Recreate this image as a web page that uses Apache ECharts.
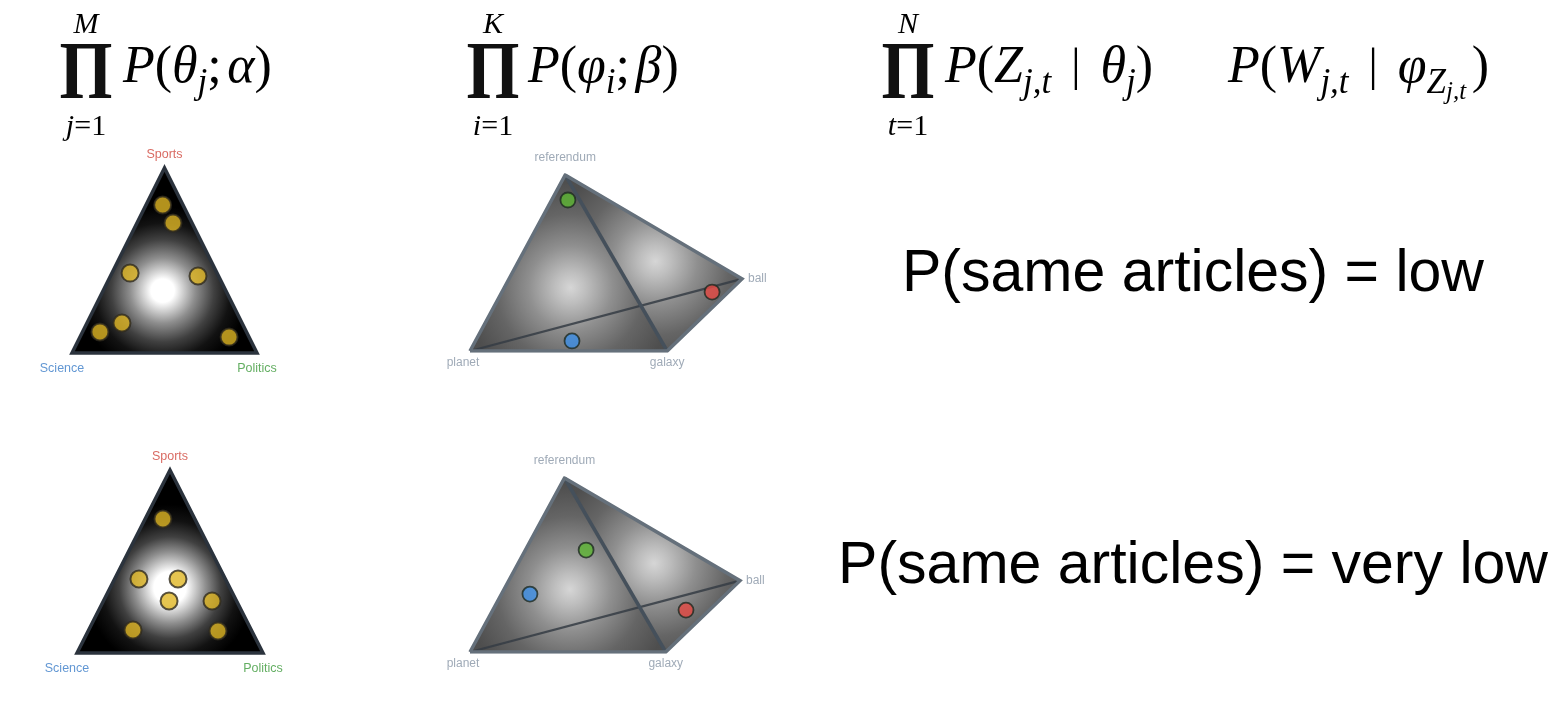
<!DOCTYPE html>
<html>
<head>
<meta charset="utf-8">
<script src="https://cdn.jsdelivr.net/npm/echarts@6/dist/echarts.min.js"></script>
<style>
  html, body { margin: 0; padding: 0; background: #fff; }
  #main { width: 1567px; height: 701px; }
</style>
</head>
<body>
<div id="main"></div>
<script>
// topic simplex: corners in unit space (Science, Politics, Sports)
const simplexCorners = [[0, 0], [1, 0], [0.5, 1]];
const simplexNames = ['Science', 'Politics', 'Sports'];
const simplexNameColors = ['#3b7dc8', '#3c9a3b', '#d0463c'];

// documents' topic mixtures (theta_j)
const docsLow = [[0.49, 0.80], [0.546, 0.703], [0.314, 0.432], [0.681, 0.416], [0.27, 0.162], [0.151, 0.114], [0.849, 0.086]];
const docsVeryLow = [[0.462, 0.732], [0.333, 0.404], [0.543, 0.404], [0.495, 0.284], [0.726, 0.284], [0.301, 0.126], [0.758, 0.12]];

// word simplex (tetrahedron seen in perspective): referendum, planet, galaxy, ball
const wordCorners = [[0.35, 1], [0, 0], [0.725, 0], [1, 0.41]];
const wordNames = ['referendum', 'planet', 'galaxy', 'ball'];
const wordFaces = [[0, 1, 2], [0, 2, 3]];
const wordOutline = [1, 0, 3, 2, 1];
const wordFrontEdge = [0, 2];
const wordBackEdge = [1, 3];

// topics' word distributions (phi_i): Politics, Sports, Science
const topicColors = ['#5cb532', '#e64a44', '#3d8fe6'];
const topicsLow = [[0.36, 0.858], [0.89, 0.335], [0.375, 0.057]];
const topicsVeryLow = [[0.43, 0.586], [0.8, 0.241], [0.222, 0.333]];

const verdicts = ['P(same articles) = low', 'P(same articles) = very low'];

const chart = echarts.init(document.getElementById('main'));

const grids = [
  { left: 72, top: 168, width: 185, height: 185 },
  { left: 470, top: 175, width: 272, height: 176 },
  { left: 77, top: 470, width: 186, height: 183 },
  { left: 470, top: 478, width: 270, height: 174 }
];

function simplexSeries(gi, docs, glow) {
  const out = [];
  out.push({
    type: 'custom', xAxisIndex: gi, yAxisIndex: gi, silent: true, z: 1,
    data: simplexCorners,
    renderItem: function (params, api) {
      if (params.dataIndex !== 0) return null;
      const pts = simplexCorners.map(p => api.coord(p));
      return {
        type: 'polygon',
        shape: { points: pts },
        style: {
          fill: new echarts.graphic.RadialGradient(glow[0], glow[1], 0.62, [
            { offset: 0, color: '#ffffff' },
            { offset: glow[2], color: '#ffffff' },
            { offset: glow[3], color: '#8e8e8e' },
            { offset: 0.44, color: '#404040' },
            { offset: 0.58, color: '#121212' },
            { offset: 0.72, color: '#000000' },
            { offset: 1, color: '#000000' }
          ]),
          stroke: '#2b333d',
          lineWidth: 3.5,
          lineJoin: 'miter'
        }
      };
    }
  });
  out.push({
    type: 'scatter', xAxisIndex: gi, yAxisIndex: gi, z: 5,
    symbolSize: 17,
    itemStyle: { color: '#e0b624', borderColor: '#2f2b1e', borderWidth: 2 },
    data: docs
  });
  out.push({
    type: 'scatter', xAxisIndex: gi, yAxisIndex: gi, z: 6,
    symbolSize: 0,
    data: simplexCorners.map((p, k) => ({
      value: p,
      label: {
        show: true,
        formatter: simplexNames[k],
        color: simplexNameColors[k],
        position: k === 2 ? 'top' : 'bottom',
        distance: k === 2 ? 7 : 9,
        offset: k === 0 ? [-10, 0] : [0, 0],
        fontFamily: 'Liberation Sans',
        fontSize: 12.5
      }
    }))
  });
  return out;
}

function faceGradient(cx, cy) {
  return new echarts.graphic.RadialGradient(cx, cy, 0.6, [
    { offset: 0, color: '#d4d4d4' },
    { offset: 0.15, color: '#bababa' },
    { offset: 0.4, color: '#898989' },
    { offset: 0.7, color: '#5d5d5d' },
    { offset: 1, color: '#454545' }
  ]);
}

function wordSeries(gi, topics) {
  const glows = [[0.51, 0.64], [0.51, 0.49]];
  const edge = idx => idx.map(k => wordCorners[k]);
  return [
    {
      type: 'custom', xAxisIndex: gi, yAxisIndex: gi, silent: true, z: 1,
      data: wordFaces,
      renderItem: function (params, api) {
        const pts = wordFaces[params.dataIndex].map(k => api.coord(wordCorners[k]));
        const g = glows[params.dataIndex];
        return {
          type: 'polygon',
          shape: { points: pts },
          style: { fill: faceGradient(g[0], g[1]), opacity: 0.95 }
        };
      }
    },
    {
      type: 'line', xAxisIndex: gi, yAxisIndex: gi, z: 2, silent: true,
      showSymbol: false, symbol: 'none',
      lineStyle: { color: '#353c44', width: 2.2, opacity: 0.85 },
      data: edge(wordBackEdge)
    },
    {
      type: 'line', xAxisIndex: gi, yAxisIndex: gi, z: 3, silent: true,
      showSymbol: false, symbol: 'none',
      lineStyle: { color: '#45505b', width: 3.5 },
      data: edge(wordFrontEdge)
    },
    {
      type: 'line', xAxisIndex: gi, yAxisIndex: gi, z: 3, silent: true,
      showSymbol: false, symbol: 'none',
      lineStyle: { color: '#65707b', width: 3.5, join: 'miter' },
      data: edge(wordOutline)
    },
    {
      type: 'scatter', xAxisIndex: gi, yAxisIndex: gi, z: 5,
      symbolSize: 15,
      data: topics.map((p, k) => ({
        value: p,
        itemStyle: { color: topicColors[k], borderColor: '#1e2a22', borderWidth: 1.8 }
      }))
    },
    {
      type: 'scatter', xAxisIndex: gi, yAxisIndex: gi, z: 6,
      symbolSize: 0,
      data: wordCorners.map((p, k) => ({
        value: p,
        label: {
          show: true,
          formatter: wordNames[k],
          color: '#8795a5',
          position: k === 0 ? 'top' : (k === 3 ? 'right' : 'bottom'),
          distance: k === 0 ? 11 : 6,
          offset: k === 1 ? [-7, 0] : [0, 0],
          fontFamily: 'Liberation Sans',
          fontSize: 12
        }
      }))
    }
  ];
}

// formula text styles
const serif = "'Liberation Serif', 'DejaVu Serif', serif";
const rich = {
  i: { fontFamily: serif, fontStyle: 'italic', fontSize: 52, verticalAlign: 'top', color: '#111' },
  n: { fontFamily: serif, fontSize: 52, verticalAlign: 'top', color: '#111' },
  sp: { fontFamily: serif, fontSize: 22, verticalAlign: 'top' },
  gap: { fontFamily: serif, fontSize: 22, verticalAlign: 'top', width: 20 },
  bar: { fontFamily: serif, fontSize: 46, verticalAlign: 'top', padding: [3, 0, 0, 0], color: '#111' },
  s: { fontFamily: serif, fontStyle: 'italic', fontSize: 35, verticalAlign: 'top', padding: [24, 0, 0, 0], color: '#111' },
  ss: { fontFamily: serif, fontStyle: 'italic', fontSize: 25, verticalAlign: 'top', padding: [38, 0, 0, 0], color: '#111' }
};
const limRich = {
  i: { fontFamily: serif, fontStyle: 'italic', fontSize: 30, color: '#111' },
  n: { fontFamily: serif, fontSize: 30, color: '#111' }
};

function product(cx, upper, lower) {
  return [
    { type: 'text', x: cx, y: 77, scaleX: 0.82, style: { text: 'Π', font: "bold 83px 'Liberation Serif'", align: 'center', verticalAlign: 'middle', fill: '#111' } },
    { type: 'text', x: cx, y: 25, style: { text: '{i|' + upper + '}', rich: limRich, align: 'center', verticalAlign: 'middle' } },
    { type: 'text', x: cx, y: 127, style: { text: '{i|' + lower + '}{n|=1}', rich: limRich, align: 'center', verticalAlign: 'middle' } }
  ];
}

function formula(x, text) {
  return { type: 'text', x: x, y: 42, style: { text: text, rich: rich, align: 'left', verticalAlign: 'top' } };
}

const graphics = [].concat(
  product(86, 'M', 'j'),
  [formula(123, '{i|P}{n|(}{i|θ}{s|j}{n|;}{sp| }{i|α}{n|)}')],
  product(493, 'K', 'i'),
  [formula(528, '{i|P}{n|(}{i|φ}{s|i}{n|;}{sp| }{i|β}{n|)}')],
  product(908, 'N', 't'),
  [formula(945, '{i|P}{n|(}{i|Z}{s|j,t}{gap| }{bar||}{gap| }{i|θ}{s|j}{n|)}')],
  [formula(1228, '{i|P}{n|(}{i|W}{s|j,t}{gap| }{bar||}{gap| }{i|φ}{s|Z}{ss|j,t}{sp| }{n|)}')],
  verdicts.map((t, k) => ({
    type: 'text', x: 1193, y: k === 0 ? 275 : 567,
    style: { text: t, font: "59px 'Liberation Sans'", align: 'center', verticalAlign: 'middle', fill: '#000' }
  }))
);

const option = {
  backgroundColor: '#ffffff',
  animation: false,
  grid: grids.map(g => Object.assign({ outerBoundsMode: 'none' }, g)),
  xAxis: grids.map((g, k) => ({ type: 'value', gridIndex: k, min: 0, max: 1, show: false })),
  yAxis: grids.map((g, k) => ({ type: 'value', gridIndex: k, min: 0, max: 1, show: false })),
  series: [].concat(
    simplexSeries(0, docsLow, [0.49, 0.66, 0.1, 0.28]),
    wordSeries(1, topicsLow),
    simplexSeries(2, docsVeryLow, [0.5, 0.64, 0.14, 0.31]),
    wordSeries(3, topicsVeryLow)
  ),
  graphic: graphics
};

chart.setOption(option);
</script>
</body>
</html>
